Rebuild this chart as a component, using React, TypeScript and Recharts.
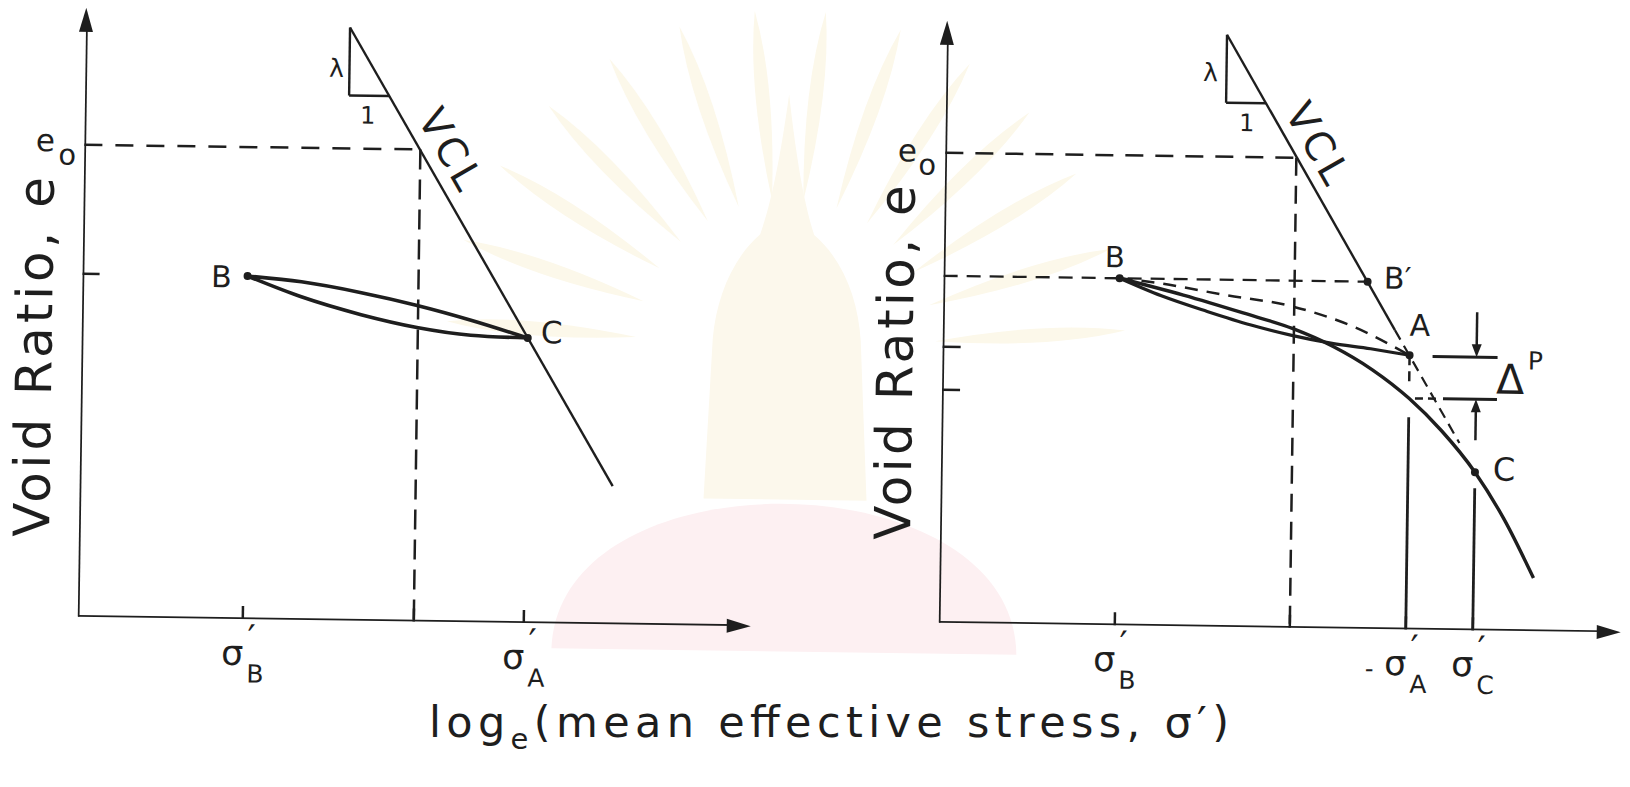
import React from "react";
import { LineChart, Line, XAxis, YAxis, ReferenceLine, ReferenceDot } from "recharts";

type Pt = { x: number; y: number };

const INK = "#1e1e1e";
const FONT = "'DejaVu Sans', 'Liberation Sans', sans-serif";

// ---------- left panel: unload / reload loop B–C, C on the VCL ----------
const leftMax = { x: 6.73, y: 6.09 };
const leftE0 = 4.72;
const leftE0Stress = 3.36;
const leftVcl: Pt[] = [{ x: 2.64, y: 5.93 }, { x: 5.33, y: 1.38 }];
const leftSlopeFoot: Pt = { x: 3.04, y: 5.25 };
const leftB: Pt = { x: 1.65, y: 3.43 };
const leftC: Pt = { x: 4.46, y: 2.85 };
const leftReload: Pt[] = [
  { x: 1.65, y: 3.43 }, { x: 2.19, y: 3.38 }, { x: 2.79, y: 3.28 },
  { x: 3.35, y: 3.16 }, { x: 3.89, y: 3.02 }, { x: 4.46, y: 2.85 },
];
const leftUnload: Pt[] = [
  { x: 1.65, y: 3.43 }, { x: 2.19, y: 3.23 }, { x: 2.79, y: 3.06 },
  { x: 3.35, y: 2.94 }, { x: 3.89, y: 2.87 }, { x: 4.46, y: 2.85 },
];
const leftXTicks = [1.65, 3.36, 4.46];
const leftYTicks = [3.43];
const leftStressLabels = [{ x: 1.65, sub: "B" }, { x: 4.46, sub: "A" }];
const leftTitleFoot = 0.79;

// ---------- right panel: loading past A towards C, plastic change Δp ----------
const rightMax = { x: 6.82, y: 6.02 };
const rightE0 = 4.7;
const rightE0Stress = 3.51;
const rightVcl: Pt[] = [{ x: 2.8, y: 5.92 }, { x: 4.52, y: 2.99 }];
const rightVclExt: Pt[] = [{ x: 4.52, y: 2.99 }, { x: 5.18, y: 1.87 }];
const rightSlopeFoot: Pt = { x: 3.2, y: 5.24 };
const rightB: Pt = { x: 1.76, y: 3.47 };
const rightBPrime: Pt = { x: 4.24, y: 3.47 };
const rightA: Pt = { x: 4.67, y: 2.74 };
const rightC: Pt = { x: 5.34, y: 1.58 };
const rightLoading: Pt[] = [
  { x: 1.76, y: 3.47 }, { x: 2.4, y: 3.31 }, { x: 3.0, y: 3.14 }, { x: 3.5, y: 2.99 },
  { x: 3.9, y: 2.82 }, { x: 4.3, y: 2.59 }, { x: 4.67, y: 2.31 }, { x: 5.0, y: 1.99 },
  { x: 5.34, y: 1.58 }, { x: 5.64, y: 1.11 }, { x: 5.94, y: 0.53 },
];
const rightUnloading: Pt[] = [
  { x: 1.76, y: 3.47 }, { x: 2.18, y: 3.3 }, { x: 2.64, y: 3.15 }, { x: 3.08, y: 3.02 },
  { x: 3.5, y: 2.92 }, { x: 3.88, y: 2.85 }, { x: 4.28, y: 2.8 }, { x: 4.67, y: 2.74 },
];
const rightElastic: Pt[] = [
  { x: 1.76, y: 3.47 }, { x: 2.13, y: 3.43 }, { x: 2.8, y: 3.32 },
  { x: 3.5, y: 3.21 }, { x: 4.1, y: 3.02 }, { x: 4.67, y: 2.74 },
];
const rightXTicks = [1.76, 3.51, 4.67, 5.34];
const rightYTicks = [2.76, 2.33];
const rightStressLabels = [{ x: 1.76, sub: "B" }, { x: 4.67, sub: "A" }, { x: 5.34, sub: "C" }];
const rightTitleFoot = 0.82;
const deltaTop = 2.73;
const deltaBottom = 2.31;
const deltaTopBar = [4.9, 5.55];
const deltaBottomBar = [5.01, 5.55];
const deltaBottomDash = [4.73, 4.98];
const deltaArrowFrom = { top: 3.18, bottom: 1.9 };
const sigmaAWallTop = 2.12;
const sigmaADashEnd = 2.46;
const sigmaCWallTop = 1.42;

// faint library stamp printed behind the figure (ray angles in degrees)
const stampRays = [-176, -162, -148, -135, -122, -109, -96, -84, -71, -58, -45, -32, -18, -4];

// ---------- shared drawing helpers ----------
const seg = (a: Pt, b: Pt, w = 3, dash?: string) => (
  <ReferenceLine
    segment={[a, b]}
    stroke={INK}
    strokeWidth={w}
    strokeDasharray={dash}
    ifOverflow="visible"
  />
);

const word = (text: string, dx: number, dy: number, size: number, angle = 0, len?: number) =>
  (p: any) => {
    const x = p.cx + dx;
    const y = p.cy + dy;
    return (
      <text
        x={x}
        y={y}
        fontSize={size}
        fontFamily={FONT}
        fill={INK}
        textAnchor="middle"
        dominantBaseline="central"
        textLength={len}
        lengthAdjust={len ? "spacing" : undefined}
        transform={angle ? `rotate(${angle} ${x} ${y})` : undefined}
      >
        {text}
      </text>
    );
  };

// vertical axis title, laid out upward from its foot
const axisTitle = (dx: number, len: number) => (p: any) => {
  const x = p.cx + dx;
  const y = p.cy;
  return (
    <text
      x={x}
      y={y}
      fontSize={50}
      fontFamily={FONT}
      fill={INK}
      textAnchor="start"
      dominantBaseline="central"
      textLength={len}
      lengthAdjust="spacing"
      transform={`rotate(-90 ${x} ${y})`}
    >
      Void Ratio, e
    </text>
  );
};

const e0Tag = (ex: number, ey: number, ox: number, oy: number) => (p: any) => (
  <g fontFamily={FONT} fill={INK}>
    <text x={p.cx + ex} y={p.cy + ey} fontSize={31} textAnchor="middle" dominantBaseline="central">e</text>
    <text x={p.cx + ox} y={p.cy + oy} fontSize={29} textAnchor="middle" dominantBaseline="central">o</text>
  </g>
);

const stressTag = (sub: string, lead = false) => (p: any) => (
  <g fontFamily={FONT} fill={INK}>
    {lead && (
      <text x={p.cx - 36} y={p.cy + 40} fontSize={24} textAnchor="middle" dominantBaseline="central">-</text>
    )}
    <text x={p.cx - 10} y={p.cy + 34} fontSize={35} textAnchor="middle" dominantBaseline="central">σ</text>
    <text x={p.cx + 9} y={p.cy + 19} fontSize={36} textAnchor="middle" dominantBaseline="central">′</text>
    <text x={p.cx + 13} y={p.cy + 55} fontSize={25} textAnchor="middle" dominantBaseline="central">{sub}</text>
  </g>
);

const deltaTag = (p: any) => (
  <g fontFamily={FONT} fill={INK}>
    <text x={p.cx + 34} y={p.cy + 1} fontSize={41} textAnchor="middle" dominantBaseline="central">Δ</text>
    <text x={p.cx + 59} y={p.cy - 18} fontSize={25} textAnchor="middle" dominantBaseline="central">P</text>
  </g>
);

const arrowHead = (dir: "up" | "down" | "right", len: number, half: number) => (p: any) => {
  const { cx, cy } = p;
  let d = "";
  if (dir === "up") d = `M${cx},${cy} L${cx - half},${cy + len} L${cx + half},${cy + len} Z`;
  if (dir === "down") d = `M${cx},${cy} L${cx - half},${cy - len} L${cx + half},${cy - len} Z`;
  if (dir === "right") d = `M${cx},${cy} L${cx - len},${cy - half} L${cx - len},${cy + half} Z`;
  return <path d={d} fill={INK} stroke="none" />;
};

const dot = (pt: Pt) => (
  <ReferenceDot x={pt.x} y={pt.y} r={4} fill={INK} stroke="none" ifOverflow="visible" />
);

const tag = (pt: Pt, shape: (p: any) => React.ReactElement) => (
  <ReferenceDot x={pt.x} y={pt.y} r={0} ifOverflow="visible" shape={shape} />
);

const curve = (data: Pt[], w: number, dash?: string, type: any = "monotone") => (
  <Line
    data={data}
    dataKey="y"
    type={type}
    stroke={INK}
    strokeWidth={w}
    strokeDasharray={dash}
    dot={false}
    activeDot={false}
    isAnimationActive={false}
  />
);

function petal(cx: number, cy: number, deg: number, r0: number, r1: number, w: number) {
  const a = (deg * Math.PI) / 180;
  const ux = Math.cos(a), uy = Math.sin(a);
  const nx = -uy, ny = ux;
  const bx = cx + ux * r0, by = cy + uy * r0;
  const tx = cx + ux * r1, ty = cy + uy * r1;
  const mx = cx + ux * (r0 + (r1 - r0) * 0.6), my = cy + uy * (r0 + (r1 - r0) * 0.6);
  return `M${bx},${by} Q${mx + nx * w},${my + ny * w} ${tx},${ty} Q${mx - nx * w},${my - ny * w} ${bx},${by} Z`;
}

function Stamp() {
  return (
    <svg width={1630} height={787} style={{ position: "absolute", left: 0, top: 0 }}>
      {stampRays.map((deg) => (
        <path key={deg} d={petal(785, 350, deg, 150, 340, 14)} fill="#fcf8ea" />
      ))}
      <path
        d="M785,95 C778,150 770,200 758,235 C730,260 715,300 712,340 L705,500 L868,500 L860,340 C857,300 842,260 812,235 C800,200 792,150 785,95 Z"
        fill="#fcf8ec"
      />
      <path d="M555,652 C560,455 1015,455 1020,652 Z" fill="#fdf0f2" />
    </svg>
  );
}

function LeftPanel() {
  return (
    <LineChart width={800} height={787} margin={{ top: 18, right: 46, bottom: 160, left: 81 }}>
      <XAxis dataKey="x" type="number" domain={[0, leftMax.x]} hide height={0} allowDataOverflow />
      <YAxis type="number" domain={[0, leftMax.y]} hide width={0} allowDataOverflow />

      {/* axes */}
      {curve([{ x: 0, y: 0 }, { x: leftMax.x - 0.1, y: 0 }], 3.5, undefined, "linear")}
      {curve([{ x: 0, y: 0 }, { x: 0, y: leftMax.y - 0.1 }], 3.5, undefined, "linear")}
      {tag({ x: leftMax.x, y: 0 }, arrowHead("right", 24, 7))}
      {tag({ x: 0, y: leftMax.y }, arrowHead("up", 24, 7))}
      {leftXTicks.map((x) => (
        <ReferenceLine key={`lx${x}`} segment={[{ x, y: 0 }, { x, y: 0.13 }]} stroke={INK} strokeWidth={2.5} ifOverflow="visible" />
      ))}
      {leftYTicks.map((y) => (
        <ReferenceLine key={`ly${y}`} segment={[{ x: 0, y }, { x: 0.17, y }]} stroke={INK} strokeWidth={2.5} ifOverflow="visible" />
      ))}

      {/* e0 construction */}
      {seg({ x: 0, y: leftE0 }, { x: leftE0Stress, y: leftE0 }, 2.5, "18 13")}
      {seg({ x: leftE0Stress, y: leftE0 }, { x: leftE0Stress, y: 0 }, 2.5, "20 10")}

      {/* VCL with slope triangle */}
      {seg(leftVcl[0], leftVcl[1], 2.4)}
      {seg(leftVcl[0], { x: leftVcl[0].x, y: leftSlopeFoot.y }, 2.4)}
      {seg({ x: leftVcl[0].x, y: leftSlopeFoot.y }, leftSlopeFoot, 2.4)}

      {/* unload / reload loop */}
      {curve(leftReload, 3.6)}
      {curve(leftUnload, 3.6)}
      {dot(leftB)}
      {dot(leftC)}

      {/* labels */}
      {tag(leftB, word("B", -26, 1, 30))}
      {tag(leftC, word("C", 24, -6, 31))}
      {tag(leftVcl[0], word("λ", -13, 41, 25))}
      {tag(leftVcl[0], word("1", 19, 88, 24))}
      {tag({ x: leftE0Stress, y: leftE0 }, word("VCL", 30, -1, 40, 59.4, 86))}
      {tag({ x: 0, y: leftE0 }, e0Tag(-39, -4, -17, 10))}
      {tag({ x: 0, y: leftTitleFoot }, axisTitle(-47, 360))}
      {leftStressLabels.map((s) => (
        <ReferenceDot key={`ls${s.sub}`} x={s.x} y={0} r={0} ifOverflow="visible" shape={stressTag(s.sub)} />
      ))}
    </LineChart>
  );
}

function RightPanel() {
  return (
    <LineChart width={830} height={787} margin={{ top: 19, right: 6, bottom: 166, left: 142 }}>
      <XAxis dataKey="x" type="number" domain={[0, rightMax.x]} hide height={0} allowDataOverflow />
      <YAxis type="number" domain={[0, rightMax.y]} hide width={0} allowDataOverflow />

      {/* axes */}
      {curve([{ x: 0, y: 0 }, { x: rightMax.x - 0.1, y: 0 }], 3.5, undefined, "linear")}
      {curve([{ x: 0, y: 0 }, { x: 0, y: rightMax.y - 0.1 }], 3.5, undefined, "linear")}
      {tag({ x: rightMax.x, y: 0 }, arrowHead("right", 24, 7))}
      {tag({ x: 0, y: rightMax.y }, arrowHead("up", 24, 7))}
      {rightXTicks.map((x) => (
        <ReferenceLine key={`rx${x}`} segment={[{ x, y: 0 }, { x, y: 0.13 }]} stroke={INK} strokeWidth={2.5} ifOverflow="visible" />
      ))}
      {rightYTicks.map((y) => (
        <ReferenceLine key={`ry${y}`} segment={[{ x: 0, y }, { x: 0.18, y }]} stroke={INK} strokeWidth={2.5} ifOverflow="visible" />
      ))}

      {/* e0 and B level construction */}
      {seg({ x: 0, y: rightE0 }, { x: rightE0Stress, y: rightE0 }, 2.5, "18 12")}
      {seg({ x: rightE0Stress, y: rightE0 }, { x: rightE0Stress, y: 0 }, 2.5, "18 10")}
      {seg({ x: 0, y: rightB.y }, rightBPrime, 2.3, "14 9")}

      {/* VCL, slope triangle and dashed extension below A */}
      {seg(rightVcl[0], rightVcl[1], 2.4)}
      {seg(rightVclExt[0], rightVclExt[1], 2.2, "11 7")}
      {seg(rightVcl[0], { x: rightVcl[0].x, y: rightSlopeFoot.y }, 2.4)}
      {seg({ x: rightVcl[0].x, y: rightSlopeFoot.y }, rightSlopeFoot, 2.4)}

      {/* stress paths */}
      {curve(rightElastic, 2.5, "13 9")}
      {curve(rightUnloading, 3.2)}
      {curve(rightLoading, 3.4)}

      {/* σ'A and σ'C verticals */}
      {seg(rightA, { x: rightA.x, y: sigmaADashEnd }, 2.5, "10 6")}
      {seg({ x: rightA.x, y: sigmaAWallTop }, { x: rightA.x, y: 0 }, 2.8)}
      {seg({ x: rightC.x, y: sigmaCWallTop }, { x: rightC.x, y: 0 }, 2.8)}

      {/* Δp dimension */}
      {seg({ x: deltaTopBar[0], y: deltaTop }, { x: deltaTopBar[1], y: deltaTop }, 3)}
      {seg({ x: deltaBottomBar[0], y: deltaBottom }, { x: deltaBottomBar[1], y: deltaBottom }, 3)}
      {seg({ x: deltaBottomDash[0], y: deltaBottom }, { x: deltaBottomDash[1], y: deltaBottom }, 2.5, "8 5")}
      {seg({ x: rightC.x, y: deltaArrowFrom.top }, { x: rightC.x, y: deltaTop + 0.08 }, 2.5)}
      {seg({ x: rightC.x, y: deltaArrowFrom.bottom }, { x: rightC.x, y: deltaBottom - 0.08 }, 2.5)}
      {tag({ x: rightC.x, y: deltaTop }, arrowHead("down", 13, 5))}
      {tag({ x: rightC.x, y: deltaBottom }, arrowHead("up", 13, 5))}

      {dot(rightB)}
      {dot(rightBPrime)}
      {dot(rightA)}
      {dot(rightC)}

      {/* labels */}
      {tag(rightB, word("B", -5, -21, 29))}
      {tag(rightBPrime, word("B′", 30, -4, 30))}
      {tag(rightA, word("A", 10, -30, 30))}
      {tag(rightC, word("C", 29, -3, 32))}
      {tag(rightVcl[0], word("λ", -16, 38, 25))}
      {tag(rightVcl[0], word("1", 21, 88, 24))}
      {tag({ x: rightE0Stress, y: rightE0 }, word("VCL", 21, -15, 40, 59.5, 86))}
      {tag({ x: 0, y: rightE0 }, e0Tag(-38, -2, -18, 12))}
      {tag({ x: rightC.x, y: (deltaTop + deltaBottom) / 2 }, deltaTag)}
      {tag({ x: 0, y: rightTitleFoot }, axisTitle(-47, 355))}
      {rightStressLabels.map((s) => (
        <ReferenceDot key={`rs${s.sub}`} x={s.x} y={0} r={0} ifOverflow="visible" shape={stressTag(s.sub, s.sub === "A")} />
      ))}
    </LineChart>
  );
}

export default function App() {
  return (
    <div style={{ position: "absolute", left: 0, top: 0, width: 1630, height: 787, overflow: "hidden", background: "#fff" }}>
      <div
        style={{
          position: "absolute",
          left: 0,
          top: 0,
          width: 1630,
          height: 787,
          transform: "rotate(0.8deg)",
          transformOrigin: "815px 393px",
        }}
      >
        <Stamp />
        <div style={{ position: "absolute", left: 0, top: 0 }}>
          <LeftPanel />
        </div>
        <div style={{ position: "absolute", left: 800, top: 0 }}>
          <RightPanel />
        </div>
      </div>
      {/* shared stress axis title */}
      <svg width={1630} height={787} style={{ position: "absolute", left: 0, top: 0, pointerEvents: "none" }}>
        <text x={829} y={737} fontSize={43} fontFamily={FONT} fill={INK} textAnchor="middle" textLength={800} lengthAdjust="spacing">
          log<tspan fontSize={29} dy={12}>e</tspan>
          <tspan dy={-12}>(mean effective stress, σ′)</tspan>
        </text>
      </svg>
    </div>
  );
}
